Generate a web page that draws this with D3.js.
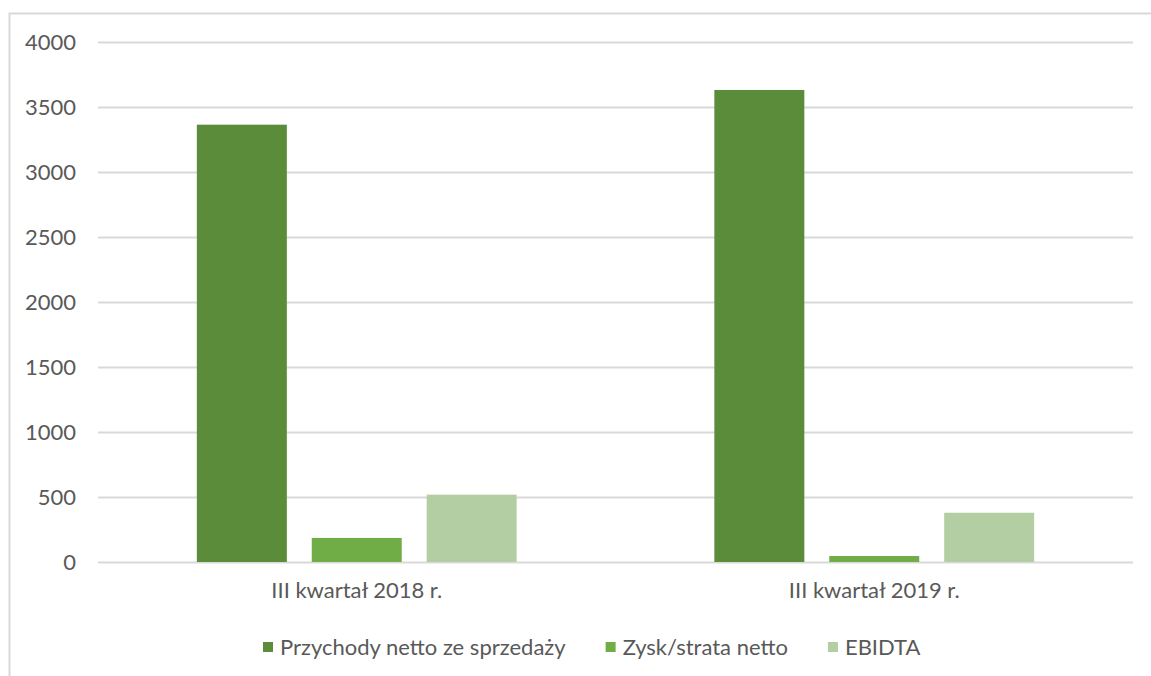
<!DOCTYPE html>
<html>
<head>
    <meta charset="utf-8">
    <script src="https://d3js.org/d3.v7.min.js"></script>
    <style>
        body { margin: 0; background: #fff; }
        text { font-family: Lato, "Open Sans", sans-serif; fill: #595959; }
    </style>
</head>
<body>
    <svg id="chart"></svg>
    <script>
        var categories = ["III kwartał 2018 r.", "III kwartał 2019 r."];
        var seriesNames = ["Przychody netto ze sprzedaży", "Zysk/strata netto", "EBIDTA"];
        var przychody = [3364, 3631];
        var zysk = [185, 46];
        var ebidta = [518, 379];
        var yTicks = [0, 500, 1000, 1500, 2000, 2500, 3000, 3500, 4000];
        var colors = ["#5b8c3a", "#70ad47", "#b4cea4"];

        var values = [przychody, zysk, ebidta];
        var data = categories.map(function (c, i) {
            return { cat: c, vals: seriesNames.map(function (s, j) { return { name: s, v: values[j][i] }; }) };
        });

        var width = 1151, height = 676;
        var plotLeft = 98, plotRight = 1133, plotTop = 42, plotBottom = 562;
        var fontSize = "22px";

        var svg = d3.select("#chart").attr("width", width).attr("height", height);

        // outer frame
        svg.append("path")
            .attr("d", "M9.5," + (height + 2) + "V13.5H" + (width + 2))
            .attr("fill", "none")
            .attr("stroke", "#d9d9d9")
            .attr("stroke-width", 2);

        var y = d3.scaleLinear().domain([0, 4000]).range([plotBottom, plotTop]);
        var x0 = d3.scaleBand().domain(categories).range([plotLeft, plotRight])
            .paddingInner(0.382).paddingOuter(0.191);
        var x1 = d3.scaleBand().domain(seriesNames).range([0, x0.bandwidth()])
            .paddingInner(0.217).paddingOuter(0);

        // gridlines + labels
        var yAxis = d3.axisLeft(y).tickValues(yTicks).tickFormat(d3.format("d"))
            .tickSize(-(plotRight - plotLeft)).tickPadding(22);
        var ga = svg.append("g").attr("transform", "translate(" + plotLeft + ",0)").call(yAxis);
        ga.select(".domain").remove();
        ga.selectAll(".tick line").attr("stroke", "#d9d9d9").attr("stroke-width", 2);
        ga.selectAll(".tick text").style("font-size", fontSize).attr("fill", "#595959")
            .style("font-family", "Lato, sans-serif");

        // bars
        var groups = svg.selectAll(".grp").data(data).enter().append("g")
            .attr("transform", function (d) { return "translate(" + x0(d.cat) + ",0)"; });
        groups.selectAll("rect").data(function (d) { return d.vals; }).enter().append("rect")
            .attr("x", function (d) { return x1(d.name); })
            .attr("width", x1.bandwidth())
            .attr("y", function (d) { return y(d.v); })
            .attr("height", function (d) { return y(0) - y(d.v); })
            .attr("fill", function (d, i) { return colors[i]; });

        // x axis labels
        var xAxis = d3.axisBottom(x0).tickSize(0).tickPadding(20);
        var gx = svg.append("g").attr("transform", "translate(0," + plotBottom + ")").call(xAxis);
        gx.select(".domain").remove();
        gx.selectAll(".tick text").style("font-size", fontSize).attr("fill", "#595959")
            .style("font-family", "Lato, sans-serif");

        // legend
        var legend = svg.append("g").attr("transform", "translate(263,647)");
        var lx = 0;
        seriesNames.forEach(function (s, i) {
            var item = legend.append("g").attr("transform", "translate(" + lx + ",0)");
            item.append("rect").attr("x", 0).attr("y", -5).attr("width", 10).attr("height", 10)
                .attr("fill", colors[i]);
            var t = item.append("text").attr("x", 17).attr("y", 0).attr("dy", "0.35em")
                .style("font-size", fontSize).text(s);
            lx += 17 + t.node().getComputedTextLength() + 40;
        });
    </script>
</body>
</html>
